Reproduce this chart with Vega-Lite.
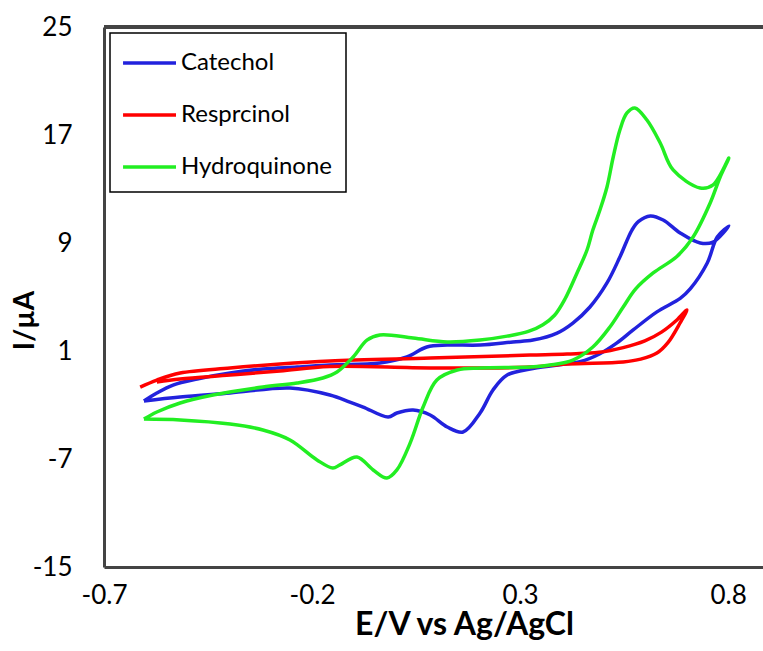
{
  "$schema": "https://vega.github.io/schema/vega-lite/v6.json",
  "width": 659,
  "height": 540,
  "autosize": {"type": "none"},
  "padding": {"left": 104, "top": 27, "right": 0, "bottom": 84},
  "background": "white",
  "config": {
    "view": {"stroke": null},
    "font": "Lato",
    "axis": {
      "grid": false,
      "ticks": false,
      "domainColor": "#444",
      "domainWidth": 3,
      "labelFont": "Lato",
      "labelFontSize": 26,
      "labelColor": "black",
      "labelFlush": false,
      "titleFont": "Lato",
      "titleFontWeight": "bold",
      "titleColor": "black"
    },
    "legend": {
      "orient": "none",
      "legendX": 6,
      "legendY": 6,
      "title": null,
      "strokeColor": "black",
      "strokeWidth": 1.5,
      "fillColor": "white",
      "padding": 13,
      "rowPadding": 23,
      "symbolType": "M-1.13,0H2.4",
      "symbolSize": 900,
      "symbolStrokeWidth": 3.5,
      "labelFont": "Lato",
      "labelFontSize": 24,
      "labelColor": "black",
      "labelOffset": 24
    }
  },
  "data": {
    "values": [
      {"s": "Catechol", "o": 1, "E": -0.604, "I": -2.70},
      {"s": "Catechol", "o": 2, "E": -0.573, "I": -2.11},
      {"s": "Catechol", "o": 3, "E": -0.534, "I": -1.52},
      {"s": "Catechol", "o": 4, "E": -0.476, "I": -1.07},
      {"s": "Catechol", "o": 5, "E": -0.397, "I": -0.63},
      {"s": "Catechol", "o": 6, "E": -0.318, "I": -0.33},
      {"s": "Catechol", "o": 7, "E": -0.236, "I": -0.19},
      {"s": "Catechol", "o": 8, "E": -0.157, "I": -0.04},
      {"s": "Catechol", "o": 9, "E": -0.037, "I": 0.11},
      {"s": "Catechol", "o": 10, "E": 0.028, "I": 0.56},
      {"s": "Catechol", "o": 11, "E": 0.076, "I": 1.30},
      {"s": "Catechol", "o": 12, "E": 0.125, "I": 1.44},
      {"s": "Catechol", "o": 13, "E": 0.204, "I": 1.44},
      {"s": "Catechol", "o": 14, "E": 0.283, "I": 1.67},
      {"s": "Catechol", "o": 15, "E": 0.331, "I": 1.81},
      {"s": "Catechol", "o": 16, "E": 0.389, "I": 2.33},
      {"s": "Catechol", "o": 17, "E": 0.427, "I": 3.07},
      {"s": "Catechol", "o": 18, "E": 0.468, "I": 4.26},
      {"s": "Catechol", "o": 19, "E": 0.509, "I": 6.04},
      {"s": "Catechol", "o": 20, "E": 0.540, "I": 7.96},
      {"s": "Catechol", "o": 21, "E": 0.569, "I": 9.96},
      {"s": "Catechol", "o": 22, "E": 0.585, "I": 10.60},
      {"s": "Catechol", "o": 23, "E": 0.613, "I": 11.0},
      {"s": "Catechol", "o": 24, "E": 0.644, "I": 10.70},
      {"s": "Catechol", "o": 25, "E": 0.685, "I": 9.74},
      {"s": "Catechol", "o": 26, "E": 0.733, "I": 9.0},
      {"s": "Catechol", "o": 27, "E": 0.764, "I": 9.07},
      {"s": "Catechol", "o": 28, "E": 0.802, "I": 10.26},
      {"s": "Catechol", "o": 29, "E": 0.774, "I": 9.44},
      {"s": "Catechol", "o": 30, "E": 0.750, "I": 7.52},
      {"s": "Catechol", "o": 31, "E": 0.709, "I": 5.60},
      {"s": "Catechol", "o": 32, "E": 0.685, "I": 4.90},
      {"s": "Catechol", "o": 33, "E": 0.629, "I": 3.90},
      {"s": "Catechol", "o": 34, "E": 0.572, "I": 2.56},
      {"s": "Catechol", "o": 35, "E": 0.533, "I": 1.60},
      {"s": "Catechol", "o": 36, "E": 0.492, "I": 0.80},
      {"s": "Catechol", "o": 37, "E": 0.444, "I": 0.20},
      {"s": "Catechol", "o": 38, "E": 0.413, "I": 0.05},
      {"s": "Catechol", "o": 39, "E": 0.331, "I": -0.30},
      {"s": "Catechol", "o": 40, "E": 0.269, "I": -0.78},
      {"s": "Catechol", "o": 41, "E": 0.235, "I": -1.89},
      {"s": "Catechol", "o": 42, "E": 0.204, "I": -3.59},
      {"s": "Catechol", "o": 43, "E": 0.163, "I": -5.0},
      {"s": "Catechol", "o": 44, "E": 0.125, "I": -4.63},
      {"s": "Catechol", "o": 45, "E": 0.084, "I": -3.74},
      {"s": "Catechol", "o": 46, "E": 0.043, "I": -3.37},
      {"s": "Catechol", "o": 47, "E": 0.004, "I": -3.59},
      {"s": "Catechol", "o": 48, "E": -0.017, "I": -3.89},
      {"s": "Catechol", "o": 49, "E": -0.077, "I": -3.15},
      {"s": "Catechol", "o": 50, "E": -0.109, "I": -2.78},
      {"s": "Catechol", "o": 51, "E": -0.157, "I": -2.26},
      {"s": "Catechol", "o": 52, "E": -0.253, "I": -1.74},
      {"s": "Catechol", "o": 53, "E": -0.397, "I": -2.11},
      {"s": "Catechol", "o": 54, "E": -0.517, "I": -2.41},
      {"s": "Catechol", "o": 55, "E": -0.604, "I": -2.70},

      {"s": "Resprcinol", "o": 1, "E": -0.613, "I": -1.67},
      {"s": "Resprcinol", "o": 2, "E": -0.573, "I": -1.15},
      {"s": "Resprcinol", "o": 3, "E": -0.517, "I": -0.63},
      {"s": "Resprcinol", "o": 4, "E": -0.397, "I": -0.26},
      {"s": "Resprcinol", "o": 5, "E": -0.277, "I": 0.04},
      {"s": "Resprcinol", "o": 6, "E": -0.157, "I": 0.26},
      {"s": "Resprcinol", "o": 7, "E": 0.084, "I": 0.48},
      {"s": "Resprcinol", "o": 8, "E": 0.324, "I": 0.70},
      {"s": "Resprcinol", "o": 9, "E": 0.413, "I": 0.78},
      {"s": "Resprcinol", "o": 10, "E": 0.490, "I": 0.90},
      {"s": "Resprcinol", "o": 11, "E": 0.548, "I": 1.25},
      {"s": "Resprcinol", "o": 12, "E": 0.600, "I": 1.75},
      {"s": "Resprcinol", "o": 13, "E": 0.640, "I": 2.40},
      {"s": "Resprcinol", "o": 14, "E": 0.677, "I": 3.30},
      {"s": "Resprcinol", "o": 15, "E": 0.701, "I": 4.04},
      {"s": "Resprcinol", "o": 16, "E": 0.685, "I": 3.10},
      {"s": "Resprcinol", "o": 17, "E": 0.655, "I": 1.60},
      {"s": "Resprcinol", "o": 18, "E": 0.629, "I": 0.85},
      {"s": "Resprcinol", "o": 19, "E": 0.590, "I": 0.40},
      {"s": "Resprcinol", "o": 20, "E": 0.548, "I": 0.19},
      {"s": "Resprcinol", "o": 21, "E": 0.413, "I": 0.04},
      {"s": "Resprcinol", "o": 22, "E": 0.324, "I": -0.19},
      {"s": "Resprcinol", "o": 23, "E": 0.084, "I": -0.26},
      {"s": "Resprcinol", "o": 24, "E": -0.157, "I": -0.15},
      {"s": "Resprcinol", "o": 25, "E": -0.277, "I": -0.48},
      {"s": "Resprcinol", "o": 26, "E": -0.397, "I": -0.78},
      {"s": "Resprcinol", "o": 27, "E": -0.517, "I": -1.07},
      {"s": "Resprcinol", "o": 28, "E": -0.573, "I": -1.30},

      {"s": "Hydroquinone", "o": 1, "E": -0.604, "I": -4.04},
      {"s": "Hydroquinone", "o": 2, "E": -0.573, "I": -3.52},
      {"s": "Hydroquinone", "o": 3, "E": -0.517, "I": -2.85},
      {"s": "Hydroquinone", "o": 4, "E": -0.438, "I": -2.26},
      {"s": "Hydroquinone", "o": 5, "E": -0.318, "I": -1.67},
      {"s": "Hydroquinone", "o": 6, "E": -0.236, "I": -1.37},
      {"s": "Hydroquinone", "o": 7, "E": -0.174, "I": -1.0},
      {"s": "Hydroquinone", "o": 8, "E": -0.140, "I": -0.56},
      {"s": "Hydroquinone", "o": 9, "E": -0.101, "I": 0.56},
      {"s": "Hydroquinone", "o": 10, "E": -0.068, "I": 1.81},
      {"s": "Hydroquinone", "o": 11, "E": -0.037, "I": 2.19},
      {"s": "Hydroquinone", "o": 12, "E": 0.043, "I": 1.96},
      {"s": "Hydroquinone", "o": 13, "E": 0.125, "I": 1.67},
      {"s": "Hydroquinone", "o": 14, "E": 0.204, "I": 1.81},
      {"s": "Hydroquinone", "o": 15, "E": 0.269, "I": 2.10},
      {"s": "Hydroquinone", "o": 16, "E": 0.320, "I": 2.45},
      {"s": "Hydroquinone", "o": 17, "E": 0.355, "I": 2.95},
      {"s": "Hydroquinone", "o": 18, "E": 0.383, "I": 3.65},
      {"s": "Hydroquinone", "o": 19, "E": 0.408, "I": 4.85},
      {"s": "Hydroquinone", "o": 20, "E": 0.437, "I": 6.78},
      {"s": "Hydroquinone", "o": 21, "E": 0.461, "I": 8.48},
      {"s": "Hydroquinone", "o": 22, "E": 0.475, "I": 9.96},
      {"s": "Hydroquinone", "o": 23, "E": 0.492, "I": 11.44},
      {"s": "Hydroquinone", "o": 24, "E": 0.509, "I": 13.15},
      {"s": "Hydroquinone", "o": 25, "E": 0.524, "I": 15.37},
      {"s": "Hydroquinone", "o": 26, "E": 0.540, "I": 17.37},
      {"s": "Hydroquinone", "o": 27, "E": 0.557, "I": 18.63},
      {"s": "Hydroquinone", "o": 28, "E": 0.576, "I": 19.0},
      {"s": "Hydroquinone", "o": 29, "E": 0.605, "I": 18.11},
      {"s": "Hydroquinone", "o": 30, "E": 0.637, "I": 16.41},
      {"s": "Hydroquinone", "o": 31, "E": 0.668, "I": 14.41},
      {"s": "Hydroquinone", "o": 32, "E": 0.733, "I": 13.07},
      {"s": "Hydroquinone", "o": 33, "E": 0.764, "I": 13.30},
      {"s": "Hydroquinone", "o": 34, "E": 0.802, "I": 15.30},
      {"s": "Hydroquinone", "o": 35, "E": 0.781, "I": 13.89},
      {"s": "Hydroquinone", "o": 36, "E": 0.757, "I": 11.96},
      {"s": "Hydroquinone", "o": 37, "E": 0.716, "I": 9.44},
      {"s": "Hydroquinone", "o": 38, "E": 0.677, "I": 8.00},
      {"s": "Hydroquinone", "o": 39, "E": 0.620, "I": 6.78},
      {"s": "Hydroquinone", "o": 40, "E": 0.578, "I": 5.60},
      {"s": "Hydroquinone", "o": 41, "E": 0.548, "I": 4.26},
      {"s": "Hydroquinone", "o": 42, "E": 0.516, "I": 2.78},
      {"s": "Hydroquinone", "o": 43, "E": 0.475, "I": 1.30},
      {"s": "Hydroquinone", "o": 44, "E": 0.427, "I": 0.33},
      {"s": "Hydroquinone", "o": 45, "E": 0.372, "I": -0.04},
      {"s": "Hydroquinone", "o": 46, "E": 0.324, "I": -0.19},
      {"s": "Hydroquinone", "o": 47, "E": 0.204, "I": -0.26},
      {"s": "Hydroquinone", "o": 48, "E": 0.149, "I": -0.41},
      {"s": "Hydroquinone", "o": 49, "E": 0.100, "I": -1.15},
      {"s": "Hydroquinone", "o": 50, "E": 0.067, "I": -3.15},
      {"s": "Hydroquinone", "o": 51, "E": 0.036, "I": -5.81},
      {"s": "Hydroquinone", "o": 52, "E": 0.004, "I": -7.81},
      {"s": "Hydroquinone", "o": 53, "E": -0.020, "I": -8.41},
      {"s": "Hydroquinone", "o": 54, "E": -0.053, "I": -7.81},
      {"s": "Hydroquinone", "o": 55, "E": -0.092, "I": -6.85},
      {"s": "Hydroquinone", "o": 56, "E": -0.133, "I": -7.44},
      {"s": "Hydroquinone", "o": 57, "E": -0.150, "I": -7.67},
      {"s": "Hydroquinone", "o": 58, "E": -0.188, "I": -7.07},
      {"s": "Hydroquinone", "o": 59, "E": -0.253, "I": -5.59},
      {"s": "Hydroquinone", "o": 60, "E": -0.318, "I": -4.85},
      {"s": "Hydroquinone", "o": 61, "E": -0.397, "I": -4.41},
      {"s": "Hydroquinone", "o": 62, "E": -0.517, "I": -4.11},
      {"s": "Hydroquinone", "o": 63, "E": -0.604, "I": -4.04}
    ]
  },
  "layer": [
    {
      "mark": {"type": "rule", "color": "#444", "strokeWidth": 3},
      "encoding": {"y": {"datum": 25}}
    },
    {
      "mark": {"type": "line", "strokeWidth": 3.5, "interpolate": "catmull-rom"},
      "encoding": {
        "x": {
          "field": "E",
          "type": "quantitative",
          "scale": {"domain": [-0.7, 0.884], "nice": false, "zero": false},
          "axis": {
            "values": [-0.7, -0.2, 0.3, 0.8],
            "labelExpr": "replace(datum.label, '\u2212', '-')",
            "labelPadding": 15,
            "title": "E/V vs Ag/AgCl",
            "titleFontSize": 32,
            "titleX": 360,
            "titleY": 67,
            "titleAlign": "center",
            "titleBaseline": "alphabetic"
          }
        },
        "y": {
          "field": "I",
          "type": "quantitative",
          "scale": {"domain": [-15, 25], "nice": false, "zero": false},
          "axis": {
            "values": [-15, -7, 1, 9, 17, 25],
            "labelExpr": "replace(datum.label, '\u2212', '-')",
            "labelPadding": 32,
            "title": "I/µA",
            "titleFontSize": 28,
            "titleX": -71,
            "titleY": 293,
            "titleAlign": "center",
            "titleBaseline": "alphabetic"
          }
        },
        "order": {"field": "o", "type": "quantitative"},
        "color": {
          "field": "s",
          "type": "nominal",
          "scale": {
            "domain": ["Catechol", "Resprcinol", "Hydroquinone"],
            "range": ["#2222DD", "#FF0000", "#22EE22"]
          },
          "legend": {}
        },
        "detail": {"field": "s"}
      }
    }
  ]
}
